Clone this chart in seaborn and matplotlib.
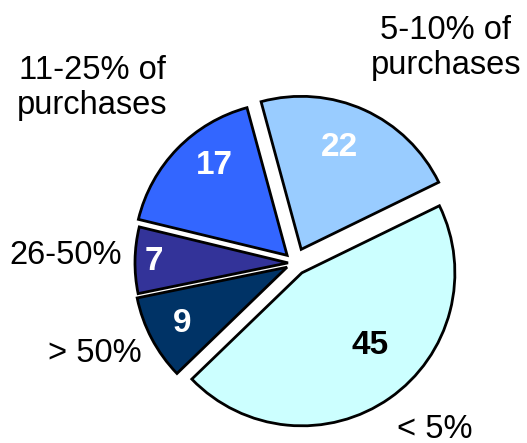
import matplotlib
matplotlib.use("Agg")
import matplotlib.pyplot as plt
import seaborn as sns

# Share of purchases made by each group of respondents
categories = ["< 5%", "5-10% of\npurchases", "11-25% of\npurchases", "26-50%", "> 50%"]
values = [45, 22, 17, 7, 9]
colors = ["#CCFFFF", "#99CCFF", "#3366FF", "#333399", "#003366"]
value_text_colors = ["black", "white", "white", "white", "white"]

sns.set_theme(style="white")
plt.rcParams["font.family"] = ["Liberation Sans", "DejaVu Sans"]

W, H = 527, 443
fig = plt.figure(figsize=(W / 100, H / 100), dpi=100)
ax = fig.add_axes([0, 0, 1, 1])

center = (295, H - 263)
radius = 153
explode = [12, 15, 11, 7, 9]

wedges, _ = ax.pie(
    values,
    colors=colors,
    startangle=224,
    counterclock=True,
    center=center,
    radius=radius,
    explode=explode,
    wedgeprops=dict(edgecolor="black", linewidth=2),
)

# value labels inside the slices
value_pos = [(370, 346), (340, 147), (214, 165), (154, 262), (182, 324)]
for v, (x, y), c in zip(values, value_pos, value_text_colors):
    ax.text(x, H - y, str(v), ha="center", va="center", fontsize=24,
            fontweight="bold", color=c)

# category labels around the pie
cat_pos = [(435, 429), (446, 48), (92, 88), (66, 256), (95, 353)]
for t, (x, y) in zip(categories, cat_pos):
    ax.text(x, H - y, t, ha="center", va="center", fontsize=23.5,
            color="black", linespacing=1.2)

ax.set_xlim(0, W)
ax.set_ylim(0, H)
ax.set_aspect("equal")
ax.axis("off")

fig.savefig("out.png", dpi=100, facecolor="white")
